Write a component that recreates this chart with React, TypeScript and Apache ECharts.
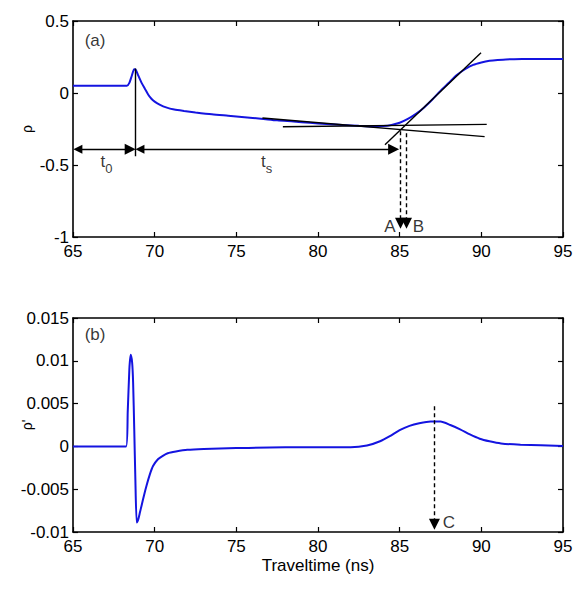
import React, { useEffect, useRef } from 'react';
import * as echarts from 'echarts';

// Panel (a): rho vs traveltime (ns)
const rhoTime = [65, 68.3, 68.45, 68.6, 68.75, 68.85, 69.0, 69.2, 69.4, 69.6, 69.8, 70.0, 70.3, 70.7, 71.2, 71.8, 72.5, 73.5, 74.5, 75.5, 76.5, 77.5, 78.5, 79.5, 80.5, 81.5, 82.5, 83.5, 84.0, 84.5, 85.0, 85.5, 86.0, 86.5, 87.0, 87.5, 88.0, 88.5, 89.0, 89.5, 90.0, 90.5, 91.0, 91.5, 92.0, 93.0, 95.0];
const rhoValue = [0.05, 0.05, 0.07, 0.12, 0.165, 0.16, 0.12, 0.07, 0.03, -0.01, -0.04, -0.06, -0.08, -0.1, -0.115, -0.125, -0.135, -0.148, -0.158, -0.168, -0.178, -0.19, -0.198, -0.207, -0.215, -0.222, -0.228, -0.232, -0.23, -0.222, -0.207, -0.18, -0.145, -0.1, -0.045, 0.015, 0.07, 0.125, 0.165, 0.195, 0.212, 0.224, 0.23, 0.233, 0.235, 0.236, 0.236];

// Panel (b): rho' vs traveltime (ns)
const dRhoTime = [65, 68.25, 68.35, 68.45, 68.53, 68.62, 68.68, 68.75, 68.82, 68.9, 69.0, 69.1, 69.2, 69.35, 69.5, 69.7, 69.9, 70.2, 70.5, 70.8, 71.3, 72.0, 73.0, 75.0, 78.0, 82.0, 83.0, 83.8, 84.4, 85.0, 85.6, 86.2, 86.9, 87.5, 88.1, 88.7, 89.3, 89.9, 90.5, 91.2, 92.4, 95.0];
const dRhoValue = [0, 0, 0.004, 0.009, 0.0107, 0.0098, 0.0075, 0.002, -0.004, -0.0089, -0.0085, -0.0077, -0.0069, -0.0057, -0.0046, -0.0033, -0.0023, -0.0015, -0.0011, -0.0008, -0.0006, -0.0004, -0.0003, -0.0002, -0.0001, -0.0001, 0.0001, 0.0006, 0.0012, 0.0019, 0.0024, 0.0027, 0.0029, 0.0029, 0.0025, 0.002, 0.0014, 0.0009, 0.0006, 0.00035, 0.0002, 0.00005];

// Annotations for panel (a), in data coordinates
const tangentLines = [
  [[84.1, -0.36], [89.98, 0.28]],
  [[77.85, -0.234], [90.33, -0.218]],
  [[76.6, -0.174], [90.2, -0.303]],
  [[68.8, 0.17], [68.8, -0.44]],
];
const solidArrows = [
  [[65.3, -0.39], [68.5, -0.39]],
  [[69.1, -0.39], [84.63, -0.39]],
];
const dashedArrowsA = [
  [[85.05, -0.265], [85.05, -0.905]],
  [[85.42, -0.28], [85.42, -0.905]],
];
const dashedArrowsB = [
  [[87.13, 0.0047], [87.13, -0.0091]],
];
const labelsA = [
  { name: '(a)', x: 66.35, y: 0.365 },
  { name: 't0', x: 67.05, y: -0.475 },
  { name: 'ts', x: 76.85, y: -0.475 },
  { name: 'A', x: 84.41, y: -0.924 },
  { name: 'B', x: 86.15, y: -0.924 },
];
const labelsB = [
  { name: '(b)', x: 66.35, y: 0.01308 },
  { name: 'C', x: 88.02, y: -0.00888 },
];

const FONT = '"Liberation Sans", Arial, Helvetica, sans-serif';
const BLUE = '#1414e0';

export default function App() {
  const ref = useRef<HTMLDivElement>(null);
  useEffect(() => {
    if (!ref.current) return;
    const chart = echarts.init(ref.current, null, { renderer: 'svg' });

    const baseX = (gridIndex: number, position: 'top' | 'bottom', labels: boolean, name?: string) => ({
      type: 'value',
      gridIndex,
      position,
      min: 65,
      max: 95,
      interval: 5,
      name: name || '',
      nameLocation: 'middle',
      nameGap: 25,
      nameMoveOverlap: false,
      nameTextStyle: { fontSize: 17, color: '#000', fontFamily: FONT },
      axisLine: { show: true, onZero: false, lineStyle: { color: '#000', width: 1.6 } },
      axisTick: { show: true, inside: true, length: 5, lineStyle: { color: '#000', width: 1.2 } },
      axisLabel: { show: labels, color: '#000', fontSize: 17, lineHeight: 14, fontFamily: FONT, margin: 7 },
      splitLine: { show: false },
    });
    const baseY = (gridIndex: number, position: 'left' | 'right', labels: boolean, min: number, max: number, interval: number, name?: string) => ({
      type: 'value',
      gridIndex,
      position,
      min,
      max,
      interval,
      name: name || '',
      nameLocation: 'middle',
      nameGap: 39,
      nameRotate: 90,
      nameMoveOverlap: false,
      nameTextStyle: { fontSize: 14, color: '#000', fontFamily: FONT },
      axisLine: { show: true, onZero: false, lineStyle: { color: '#000', width: 1.6 } },
      axisTick: { show: true, inside: true, length: 5, lineStyle: { color: '#000', width: 1.2 } },
      axisLabel: {
        show: labels, color: '#000', fontSize: 17, lineHeight: 14, fontFamily: FONT, margin: 4,
        formatter: (v: number) => String(+v.toFixed(4)),
      },
      splitLine: { show: false },
    });

    const segs = (list: number[][][]) => list.map((c) => ({ coords: c }));
    const labelSeries = (data: { name: string; x: number; y: number }[], xi: number, yi: number) => ({
      type: 'scatter',
      xAxisIndex: xi,
      yAxisIndex: yi,
      symbolSize: 1,
      itemStyle: { color: 'rgba(0,0,0,0)' },
      silent: true,
      z: 10,
      data: data.map((d) => ({ name: d.name, value: [d.x, d.y] })),
      label: {
        show: true,
        position: 'inside',
        color: '#000',
        fontFamily: FONT,
        fontSize: 17,
        formatter: (p: any) => {
          const n = p.name as string;
          if (n === 't0') return '{t|t}{sub|0}';
          if (n === 'ts') return '{t|t}{sub|s}';
          return n;
        },
        rich: {
          t: { fontSize: 17, fontFamily: FONT, color: '#000' },
          sub: { fontSize: 13, fontFamily: FONT, color: '#000', padding: [14, 0, 0, 0] },
        },
      },
    });

    chart.setOption({
      animation: false,
      backgroundColor: '#fff',
      textStyle: { fontFamily: FONT },
      grid: [
        { left: 73, top: 21, width: 490, height: 216, show: false, containLabel: false, outerBoundsMode: 'none' },
        { left: 73, top: 318, width: 490, height: 214, show: false, containLabel: false, outerBoundsMode: 'none' },
      ],
      xAxis: [
        baseX(0, 'bottom', true),
        baseX(0, 'top', false),
        baseX(1, 'bottom', true, 'Traveltime (ns)'),
        baseX(1, 'top', false),
      ],
      yAxis: [
        baseY(0, 'left', true, -1, 0.5, 0.5, 'ρ'),
        baseY(0, 'right', false, -1, 0.5, 0.5),
        baseY(1, 'left', true, -0.01, 0.015, 0.005, "ρ'"),
        baseY(1, 'right', false, -0.01, 0.015, 0.005),
      ],
      series: [
        {
          type: 'line',
          xAxisIndex: 0,
          yAxisIndex: 0,
          showSymbol: false,
          smooth: 0.25,
          data: rhoTime.map((t, i) => [t, rhoValue[i]]),
          lineStyle: { color: BLUE, width: 2 },
          z: 2,
        },
        {
          type: 'line',
          xAxisIndex: 2,
          yAxisIndex: 2,
          showSymbol: false,
          smooth: 0.2,
          data: dRhoTime.map((t, i) => [t, dRhoValue[i]]),
          lineStyle: { color: BLUE, width: 2 },
          z: 2,
        },
        {
          type: 'lines',
          coordinateSystem: 'cartesian2d',
          xAxisIndex: 0,
          yAxisIndex: 0,
          symbol: ['none', 'none'],
          lineStyle: { color: '#000', width: 1.4, opacity: 1 },
          data: segs(tangentLines),
          z: 3,
          silent: true,
        },
        {
          type: 'lines',
          coordinateSystem: 'cartesian2d',
          xAxisIndex: 0,
          yAxisIndex: 0,
          symbol: ['triangle', 'triangle'],
          symbolSize: [9, 11],
          lineStyle: { color: '#000', width: 1.4, opacity: 1 },
          itemStyle: { color: '#000' },
          data: segs(solidArrows),
          z: 3,
          silent: true,
        },
        {
          type: 'lines',
          coordinateSystem: 'cartesian2d',
          xAxisIndex: 0,
          yAxisIndex: 0,
          symbol: ['none', 'triangle'],
          symbolSize: [9, 11],
          lineStyle: { color: '#000', width: 1.4, type: [4, 3], opacity: 1 },
          itemStyle: { color: '#000' },
          data: segs(dashedArrowsA),
          z: 3,
          silent: true,
        },
        {
          type: 'lines',
          coordinateSystem: 'cartesian2d',
          xAxisIndex: 2,
          yAxisIndex: 2,
          symbol: ['none', 'triangle'],
          symbolSize: [9, 11],
          lineStyle: { color: '#000', width: 1.4, type: [4, 3], opacity: 1 },
          itemStyle: { color: '#000' },
          data: segs(dashedArrowsB),
          z: 3,
          silent: true,
        },
        labelSeries(labelsA, 0, 0),
        labelSeries(labelsB, 2, 2),
      ],
    });
    return () => chart.dispose();
  }, []);
  return (
    <div
      ref={ref}
      style={{ position: 'fixed', left: 0, top: 0, width: 577, height: 595, background: '#fff' }}
    />
  );
}
